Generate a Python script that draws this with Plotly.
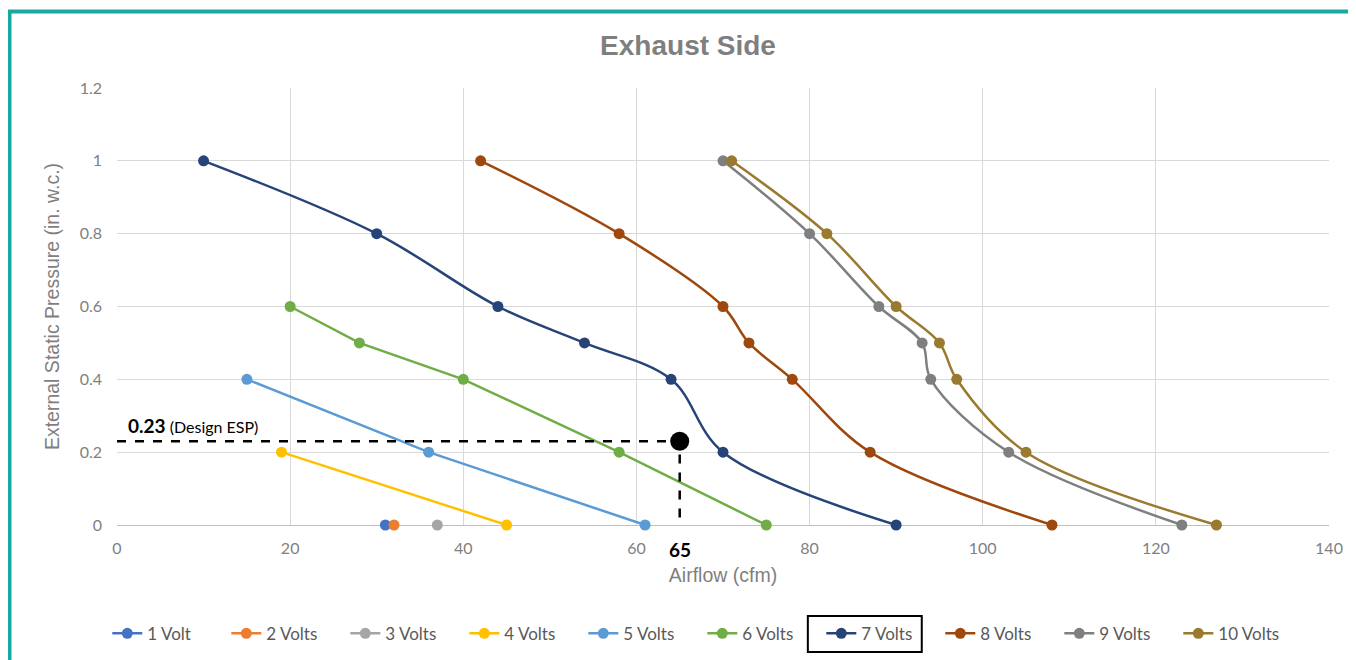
import plotly.graph_objects as go

# ---- data ----
series_names = ["1 Volt", "2 Volts", "3 Volts", "4 Volts", "5 Volts",
                "6 Volts", "7 Volts", "8 Volts", "9 Volts", "10 Volts"]
colors = ["#4472C4", "#ED7D31", "#A5A5A5", "#FFC000", "#5B9BD5",
          "#70AD47", "#264478", "#9E480E", "#7F7F7F", "#997A2E"]

cfm_1v = [31]
esp_1v = [0]
cfm_2v = [32]
esp_2v = [0]
cfm_3v = [37]
esp_3v = [0]
cfm_4v = [19, 45]
esp_4v = [0.2, 0]
cfm_5v = [15, 36, 61]
esp_5v = [0.4, 0.2, 0]
cfm_6v = [20, 28, 40, 58, 75]
esp_6v = [0.6, 0.5, 0.4, 0.2, 0]
cfm_7v = [10, 30, 44, 54, 64, 70, 90]
esp_7v = [1.0, 0.8, 0.6, 0.5, 0.4, 0.2, 0]
cfm_8v = [42, 58, 70, 73, 78, 87, 108]
esp_8v = [1.0, 0.8, 0.6, 0.5, 0.4, 0.2, 0]
cfm_9v = [70, 80, 88, 93, 94, 103, 123]
esp_9v = [1.0, 0.8, 0.6, 0.5, 0.4, 0.2, 0]
cfm_10v = [71, 82, 90, 95, 97, 105, 127]
esp_10v = [1.0, 0.8, 0.6, 0.5, 0.4, 0.2, 0]

cfm_all = [cfm_1v, cfm_2v, cfm_3v, cfm_4v, cfm_5v, cfm_6v, cfm_7v, cfm_8v, cfm_9v, cfm_10v]
esp_all = [esp_1v, esp_2v, esp_3v, esp_4v, esp_5v, esp_6v, esp_7v, esp_8v, esp_9v, esp_10v]
smoothed = [False, False, False, False, False, False, True, True, True, True]

design_cfm = 65
design_esp = 0.23

x_ticks = [0, 20, 40, 60, 80, 100, 120, 140]
y_ticks = [0, 0.2, 0.4, 0.6, 0.8, 1.0, 1.2]

FONT = "Lato"
TITLE_FONT = "Liberation Sans"
GRAY = "#7F7F7F"

fig = go.Figure()

for name, c, xs, ys, sm in zip(series_names, colors, cfm_all, esp_all, smoothed):
    fig.add_trace(go.Scatter(
        x=xs, y=ys, name=name, mode="lines+markers", cliponaxis=False,
        line=dict(color=c, width=2.5, shape="spline" if sm else "linear", smoothing=1.0),
        marker=dict(color=c, size=11),
    ))

# design point guides
fig.add_trace(go.Scatter(
    x=[0, design_cfm, design_cfm], y=[design_esp, design_esp, 0],
    mode="lines", line=dict(color="black", width=2.5, dash="dash"),
    showlegend=False, hoverinfo="skip"))
fig.add_trace(go.Scatter(
    x=[design_cfm], y=[design_esp], mode="markers",
    marker=dict(color="black", size=19), showlegend=False))

fig.add_annotation(x=1, y=design_esp, xref="x", yref="y", xanchor="left", yanchor="bottom",
                   yshift=2, showarrow=False,
                   text=f"<b><span style='font-size:19px'>{design_esp}</span></b> (Design ESP)",
                   font=dict(family=FONT, size=16, color="black"))
fig.add_annotation(x=design_cfm, y=0, xref="x", yref="y", xanchor="center", yanchor="top",
                   yshift=-11, showarrow=False, text=f"<b>{design_cfm}</b>",
                   font=dict(family=FONT, size=19, color="black"))

# teal frame
fig.add_shape(type="path", xref="paper", yref="paper",
              path="M -0.0887,-0.6 L -0.0887,1.175 L 1.2,1.175",
              line=dict(color="#17A9A2", width=4))

# box around 7 Volts legend entry
fig.add_shape(type="rect", xref="paper", yref="paper",
              x0=0.570, x1=0.664, y0=-0.2906, y1=-0.208,
              line=dict(color="black", width=2), fillcolor="rgba(0,0,0,0)")

fig.update_layout(
    width=1356, height=660,
    margin=dict(l=109, r=35, t=80, b=143),
    paper_bgcolor="white", plot_bgcolor="white",
    font=dict(family=FONT, color=GRAY),
    title=dict(text="<b>Exhaust Side</b>", x=0.5015, xanchor="center", y=0.944, yanchor="middle",
               font=dict(family=TITLE_FONT, size=28, color=GRAY)),
    xaxis=dict(range=[0, 140], tickvals=x_ticks, showgrid=True, gridcolor="#D9D9D9", gridwidth=1,
               zeroline=False, showline=False, ticks="", tickfont=dict(size=16, color=GRAY),
               ticklabelstandoff=12,
               title=dict(text="Airflow (cfm)", font=dict(family=TITLE_FONT, size=19.5, color=GRAY), standoff=12)),
    yaxis=dict(range=[0, 1.2], tickvals=y_ticks, showgrid=True, gridcolor="#D9D9D9", gridwidth=1,
               zeroline=True, zerolinecolor="#BFBFBF", zerolinewidth=1, ticks="",
               tickfont=dict(size=16, color=GRAY), ticklabelstandoff=14,
               title=dict(text="External Static Pressure (in. w.c.)",
                          font=dict(family=TITLE_FONT, size=19.5, color=GRAY), standoff=14)),
    legend=dict(orientation="h", x=-0.008, xanchor="left",
                y=-0.249, yanchor="middle", bgcolor="rgba(0,0,0,0)",
                font=dict(family=FONT, size=17, color="#595959"), itemwidth=30,
                entrywidth=74, entrywidthmode="pixels"),
    showlegend=True,
)

fig.write_html("out.html")
